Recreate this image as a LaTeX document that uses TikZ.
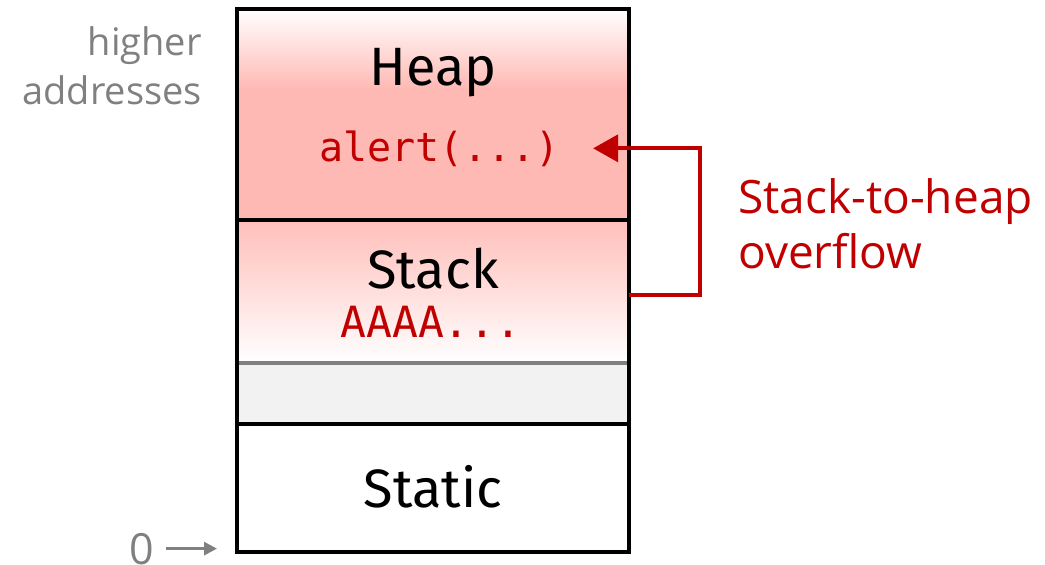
\documentclass[tikz,border=0pt]{standalone}
\usepackage{fontspec}
\setmainfont{Fira Sans}
\newfontfamily\notefont{Open Sans}
\newfontfamily\codefont{DejaVu Sans Mono}
\usetikzlibrary{arrows.meta}

\definecolor{heappink}{HTML}{FFB9B4}
\definecolor{alertred}{HTML}{C00000}
\definecolor{addrgray}{HTML}{808080}
\definecolor{gapgray}{HTML}{F2F2F2}

% heap fill: white at the top, fading into solid pink
\pgfdeclareverticalshading{heapfade}{100bp}{color(0bp)=(heappink); color(56bp)=(heappink); color(75bp)=(white); color(100bp)=(white)}

\begin{document}
\begin{tikzpicture}[x=1pt,y=-1pt,
  region/.style={minimum width=392pt, inner sep=0pt, outer sep=0pt},
  border/.style={line width=3.6pt, line cap=rect},
  seglabel/.style={inner sep=0pt, anchor=base, font=\fontsize{54}{60}\selectfont},
  codelabel/.style={inner sep=0pt, anchor=base, text=alertred},
  overflow/.style={draw=alertred, line width=3.8pt, -{Triangle[length=25pt,width=27pt]}},
  addrarrow/.style={draw=addrgray, line width=3pt, -{Triangle[length=13pt,width=13pt]}},
  note/.style={inner sep=0pt, font=\notefont\fontsize{46}{55}\selectfont, text=alertred, align=left},
  addr/.style={inner sep=0pt, font=\notefont\fontsize{38}{49}\selectfont, text=addrgray}
]
\useasboundingbox (0,0) rectangle (1045,565);

% memory regions
\node[region, minimum height=211pt, shade, shading=heapfade] (heap) at (433,114.5) {};
\node[region, minimum height=143pt, shade, top color=heappink!92!white, bottom color=white] (stack) at (433,291.5) {};
\node[region, minimum height=61pt, fill=gapgray] (gap) at (433,393.5) {};
\node[region, minimum height=128pt] (static) at (433,488) {};

% dividers and outline
\draw[border] (heap.south west) -- (heap.south east);
\draw[draw=addrgray, line width=3.4pt] (stack.south west) -- (stack.south east);
\draw[border] (gap.south west) -- (gap.south east);
\draw[border] (heap.north west) rectangle (static.south east);

% region labels
\node[seglabel] (heaplabel) at (433,85) {Heap};
\node[seglabel] (stacklabel) at (433,288) {Stack};
\node[seglabel] (staticlabel) at (433,507) {Static};
\node[codelabel, font=\codefont\fontsize{40}{44}\selectfont] (alert) at (439.5,161) {alert(...)};
\node[codelabel, font=\codefont\fontsize{43}{46}\selectfont] (payload) at (431,337) {AAAA...};

% overflow path from the stack into the heap
\draw[overflow, shorten >=33pt] ([yshift=-3.5pt]stack.east) -- ++(71,0) |- (alert.east);
\node[note, anchor=base west] (overflowlabel) at (738,268) {Stack-to-heap\\overflow};

% address annotations
\node[addr, anchor=base east, align=right] (higher) at (202,104) {higher\\addresses};
\node[addr, anchor=base, font=\notefont\fontsize{43}{49}\selectfont] (zero) at (141.5,564) {0};
\draw[addrarrow] ([xshift=12pt]zero.east) -- ([xshift=-20pt]zero.east -| static.west);
\end{tikzpicture}
\end{document}
